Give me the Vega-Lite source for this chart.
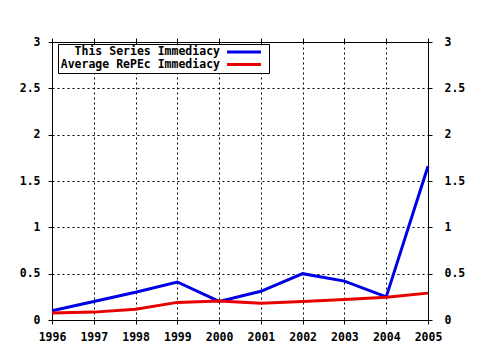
{
  "$schema": "https://vega.github.io/schema/vega-lite/v6.json",
  "width": 376,
  "height": 278,
  "autosize": {"type": "none"},
  "padding": {"left": 52, "top": 42, "right": 52, "bottom": 30},
  "background": "white",
  "config": {
    "view": {"stroke": null},
    "font": "DejaVu Sans Mono",
    "axis": {
      "domainColor": "black",
      "domainWidth": 1,
      "tickColor": "black",
      "tickSize": 4,
      "labelFont": "DejaVu Sans Mono",
      "labelFontWeight": "bold",
      "labelFontSize": 11.5,
      "labelColor": "black",
      "labelFlush": false,
      "labelOverlap": false,
      "gridColor": "black",
      "gridDash": [2, 3],
      "gridWidth": 1,
      "gridOpacity": 1,
      "title": null
    }
  },
  "data": {
    "values": [
      {"year": 1996, "series": "This Series Immediacy", "value": 0.1},
      {"year": 1997, "series": "This Series Immediacy", "value": 0.2},
      {"year": 1998, "series": "This Series Immediacy", "value": 0.3},
      {"year": 1999, "series": "This Series Immediacy", "value": 0.41},
      {"year": 2000, "series": "This Series Immediacy", "value": 0.2},
      {"year": 2001, "series": "This Series Immediacy", "value": 0.31},
      {"year": 2002, "series": "This Series Immediacy", "value": 0.5},
      {"year": 2003, "series": "This Series Immediacy", "value": 0.42},
      {"year": 2004, "series": "This Series Immediacy", "value": 0.25},
      {"year": 2005, "series": "This Series Immediacy", "value": 1.66},
      {"year": 1996, "series": "Average RePEc Immediacy", "value": 0.075},
      {"year": 1997, "series": "Average RePEc Immediacy", "value": 0.085},
      {"year": 1998, "series": "Average RePEc Immediacy", "value": 0.115},
      {"year": 1999, "series": "Average RePEc Immediacy", "value": 0.19},
      {"year": 2000, "series": "Average RePEc Immediacy", "value": 0.205},
      {"year": 2001, "series": "Average RePEc Immediacy", "value": 0.18},
      {"year": 2002, "series": "Average RePEc Immediacy", "value": 0.2},
      {"year": 2003, "series": "Average RePEc Immediacy", "value": 0.22},
      {"year": 2004, "series": "Average RePEc Immediacy", "value": 0.245},
      {"year": 2005, "series": "Average RePEc Immediacy", "value": 0.29}
    ]
  },
  "layer": [
    {
      "mark": {"type": "line", "strokeWidth": 3, "opacity": 0},
      "encoding": {
        "detail": {"field": "series"},
        "x": {
          "field": "year", "type": "quantitative",
          "scale": {"domain": [1996, 2005], "nice": false, "zero": false},
          "axis": {"orient": "top", "values": [1996,1997,1998,1999,2000,2001,2002,2003,2004,2005], "labels": false, "grid": false}
        },
        "y": {
          "field": "value", "type": "quantitative",
          "scale": {"domain": [0, 3], "nice": false},
          "axis": {"orient": "right", "values": [0,0.5,1,1.5,2,2.5,3], "format": ".1~f", "grid": false, "labelPadding": 12}
        }
      }
    },
    {
      "mark": {"type": "line", "strokeWidth": 3},
      "encoding": {
        "x": {
          "field": "year", "type": "quantitative",
          "scale": {"domain": [1996, 2005], "nice": false, "zero": false},
          "axis": {"orient": "bottom", "values": [1996,1997,1998,1999,2000,2001,2002,2003,2004,2005], "format": "d", "grid": true, "labelPadding": 7}
        },
        "y": {
          "field": "value", "type": "quantitative",
          "scale": {"domain": [0, 3], "nice": false},
          "axis": {"orient": "left", "values": [0,0.5,1,1.5,2,2.5,3], "format": ".1~f", "grid": true, "labelPadding": 8}
        },
        "color": {
          "field": "series", "type": "nominal",
          "scale": {"domain": ["This Series Immediacy", "Average RePEc Immediacy"], "range": ["#0000e6", "#e60000"]},
          "legend": {
            "orient": "none",
            "legendX": 6,
            "legendY": 2,
            "title": null,
            "symbolType": "M-4,0H4",
            "symbolSize": 72,
            "symbolStrokeWidth": 3,
            "labelFont": "DejaVu Sans Mono",
            "labelFontWeight": "bold",
            "labelFontSize": 11.5,
            "labelColor": "black",
            "labelAlign": "right",
            "labelLimit": 300,
            "rowPadding": 0.5,
            "padding": 2,
            "strokeColor": "black",
            "fillColor": "white",
            "cornerRadius": 0,
            "encode": {
              "labels": {"update": {"x": {"value": 160}, "align": {"value": "right"}}},
              "symbols": {"update": {"x": {"value": 184}}}
            }
          }
        }
      }
    }
  ],
  "resolve": {"axis": {"x": "independent", "y": "independent"}}
}
